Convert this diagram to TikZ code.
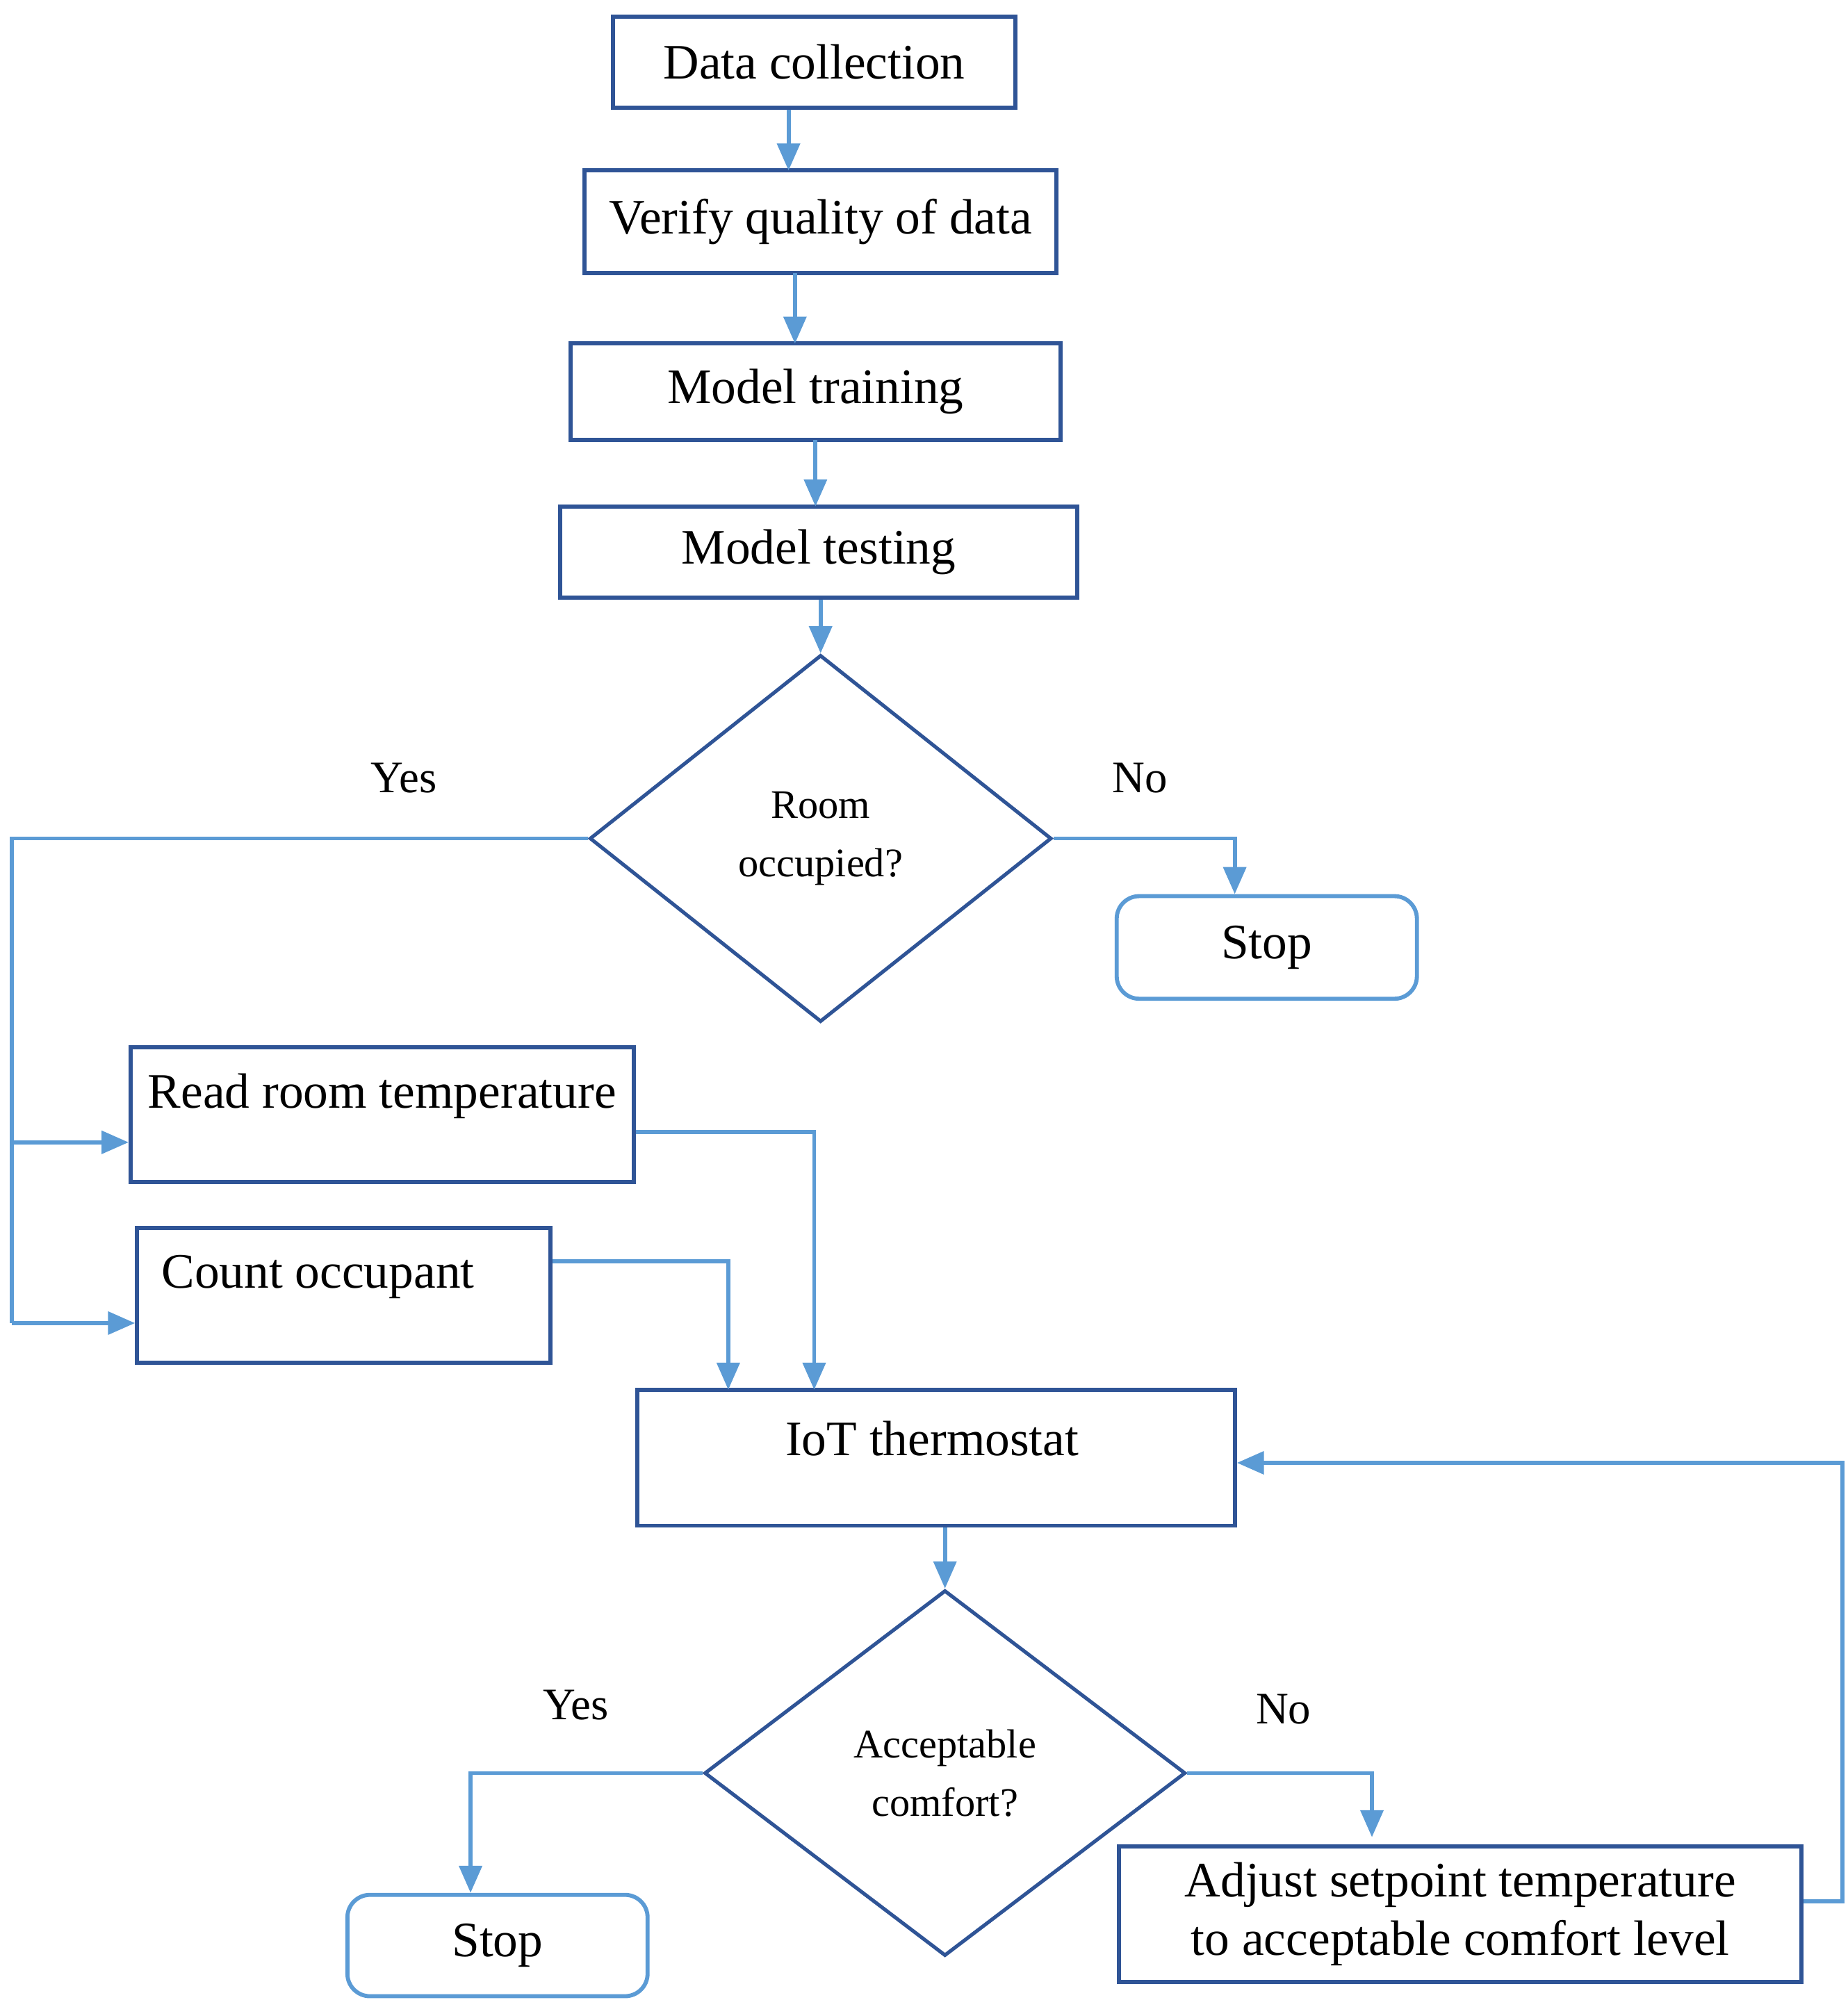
\documentclass[tikz,border=0pt]{standalone}
\usepackage{fontspec}
\setmainfont{Liberation Serif}
\usetikzlibrary{shapes.geometric,arrows.meta}
\definecolor{bord}{RGB}{47,84,150}
\definecolor{ln}{RGB}{91,155,213}
\begin{document}
\begin{tikzpicture}[x=0.01cm,y=-0.01cm,
  box/.style={draw=bord,line width=0.9pt,inner sep=0pt,font=\fontsize{11}{13}\selectfont},
  rbox/.style={draw=ln,line width=0.9pt,rounded corners=5pt,inner sep=0pt,font=\fontsize{11}{13}\selectfont},
  dia/.style={draw=bord,line width=0.8pt,diamond,inner sep=0pt,font=\fontsize{9}{13}\selectfont,align=center},
  con/.style={draw=ln,line width=0.9pt,-{Triangle[width=5pt,length=6pt]}},
  lbl/.style={font=\fontsize{10}{12}\selectfont}]
\useasboundingbox (0,0) rectangle (1441,1560);
\node[box,minimum width=3.14cm,minimum height=0.71cm] (dc) at (635,48.5) {Data collection};
\node[box,minimum width=3.68cm,minimum height=0.80cm] (vq) at (640,173) {Verify quality of data};
\node[box,minimum width=3.82cm,minimum height=0.75cm] (mt) at (636,305.5) {Model training};
\node[box,minimum width=4.03cm,minimum height=0.71cm] (ms) at (638.5,430.5) {Model testing};
\node[dia,minimum width=3.6cm,minimum height=2.86cm,aspect=1.26] (d1) at (640,654) {Room\\occupied?};
\node[rbox,minimum width=2.34cm,minimum height=0.80cm] (s1) at (988,739) {Stop};
\node[box,minimum width=3.92cm,minimum height=1.05cm] (rt) at (298,869.5) {};
\node at (298,855) [font=\fontsize{11}{13}\selectfont] {Read room temperature};
\node[box,minimum width=3.22cm,minimum height=1.05cm] (co) at (268,1010.5) {};
\node at (248,996) [font=\fontsize{11}{13}\selectfont] {Count occupant};
\node[box,minimum width=4.66cm,minimum height=1.06cm] (iot) at (730,1137) {};
\node at (727,1122) [font=\fontsize{11}{13}\selectfont] {IoT thermostat};
\node[dia,minimum width=3.75cm,minimum height=2.85cm,aspect=1.3] (d2) at (737,1383) {Acceptable\\comfort?};
\node[rbox,minimum width=2.34cm,minimum height=0.79cm] (s2) at (388,1517.5) {Stop};
\node[box,minimum width=5.32cm,minimum height=1.06cm,align=center] (adj) at (1139,1493) {Adjust setpoint temperature\\to acceptable comfort level};
\coordinate (l1) at (9,654);
\coordinate (l2) at (9,1032);
\draw[con] (dc.south -| 615,0) -- (615,133);
\draw[con] (620,213) -- (620,268);
\draw[con] (636,343) -- (636,395);
\draw[con] (ms.south -| d1.north) -- (d1.north);
\draw[draw=ln,line width=0.9pt] (d1.west) -- (l1) -- (l2);
\draw[con] (9,891) -- (rt.west |- 0,891);
\draw[con] (l2) -- (co.west |- l2);
\draw[con] (d1.east) -| (s1.north -| 963,0);
\draw[con] (rt.east |- 0,883) -| (635,1084);
\draw[con] (co.east |- 0,984) -| (568,1084);
\draw[con] (iot.south -| d2.north) -- (d2.north);
\draw[con] (d2.west) -| (s2.north -| 367,0);
\draw[con] (d2.east) -| (1070,1433);
\draw[con] (adj.east |- 0,1483) -- (1437,1483) -- (1437,1141) -- (iot.east |- 0,1141);
\node[lbl] at (315,607) {Yes};
\node[lbl] at (889,607) {No};
\node[lbl] at (449,1330) {Yes};
\node[lbl] at (1001,1333) {No};
\end{tikzpicture}
\end{document}
